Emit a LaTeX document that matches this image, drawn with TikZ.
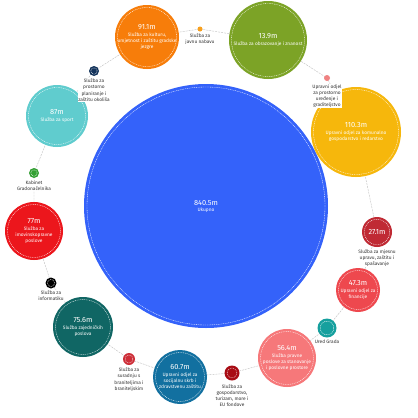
\documentclass[tikz,border=0pt]{standalone}
\usepackage{fontspec}
\setmainfont{Fira Sans}
\usetikzlibrary{positioning,backgrounds}

% colours of the departments
\definecolor{ukupnoBlue}{RGB}{52,98,250}
\definecolor{kulturaOrange}{RGB}{247,125,10}
\definecolor{nabavaOrange}{RGB}{248,160,30}
\definecolor{obrazovanjeGreen}{RGB}{124,163,38}
\definecolor{graditeljstvoPink}{RGB}{240,130,130}
\definecolor{komunalnoYellow}{RGB}{246,183,12}
\definecolor{upravaRed}{RGB}{192,42,52}
\definecolor{financijeRed}{RGB}{238,72,78}
\definecolor{uredTeal}{RGB}{22,160,158}
\definecolor{stanovanjeSalmon}{RGB}{246,120,122}
\definecolor{gospodarstvoRed}{RGB}{168,12,20}
\definecolor{socijalnoBlue}{RGB}{18,112,160}
\definecolor{braniteljiRed}{RGB}{205,45,55}
\definecolor{zajednickiTeal}{RGB}{16,102,100}
\definecolor{imovinaRed}{RGB}{236,22,28}
\definecolor{kabinetGreen}{RGB}{52,160,52}
\definecolor{sportCyan}{RGB}{96,204,206}
\definecolor{okolisNavy}{RGB}{20,52,92}

\newcommand{\iznos}[1]{{\fontsize{7.4}{8.4}\selectfont #1}}

\begin{document}
\begin{tikzpicture}[x=1pt,y=-1pt,
  bubble/.style={circle, fill=#1, inner sep=0pt, text=white, align=center,
    font=\fontsize{4.8}{6}\selectfont},
  ring/.style={white, line width=0.35pt, dash pattern=on 1pt off 0.8pt},
  link/.style={draw=black!25, line width=0.4pt, dash pattern=on 2pt off 1pt},
  tag/.style={fill=white, inner sep=0.6pt, align=center, text=black!80,
    font=\fontsize{4.8}{6.2}\selectfont}]
\useasboundingbox (0,0) rectangle (418,418);

% the total in the middle
\node[bubble=ukupnoBlue, minimum size=244pt] (ukupno) at (206,206) {\iznos{840.5m}\\Ukupno};

% departments round the ring
\node[bubble=kulturaOrange, minimum size=64pt] (kultura) at (147,37) {\iznos{91.1m}\\[1pt]Služba za kulturu,\\umjetnost i zaštitu gradske\\jezgre};
\node[bubble=nabavaOrange, minimum size=5pt] (nabava) at (200,29) {};
\node[bubble=obrazovanjeGreen, minimum size=78pt] (obrazovanje) at (268,40) {\iznos{13.9m}\\[1pt]Služba za obrazovanje i znanost};
\node[bubble=graditeljstvoPink, minimum size=6pt] (graditeljstvo) at (327,78) {};
\node[bubble=komunalnoYellow, minimum size=90pt] (komunalno) at (356,132) {\iznos{110.3m}\\[1pt]Upravni odjel za komunalno\\gospodarstvo i redarstvo};
\node[bubble=upravaRed, minimum size=30pt] (uprava) at (377,232) {\iznos{27.1m}};
\node[bubble=financijeRed, minimum size=44pt] (financije) at (358,290) {\iznos{47.3m}\\[1pt]Upravni odjel za\\financije};
\node[bubble=uredTeal, minimum size=19pt] (ured) at (327,328) {};
\node[bubble=stanovanjeSalmon, minimum size=58pt] (stanovanje) at (287,358) {\iznos{56.4m}\\[1pt]Služba pravne\\poslove za stanovanje\\i poslovne prostore};
\node[bubble=gospodarstvoRed, minimum size=15pt] (gospodarstvo) at (232,373) {};
\node[bubble=socijalnoBlue, minimum size=54pt] (socijalno) at (180,377) {\iznos{60.7m}\\[1pt]Upravni odjel za\\socijalnu skrb i\\zdravstvenu zaštitu};
\node[bubble=braniteljiRed, minimum size=12pt] (branitelji) at (129,359) {};
\node[bubble=zajednickiTeal, minimum size=60pt] (zajednicki) at (83,327) {\iznos{75.6m}\\[1pt]Služba zajedničkih\\poslova};
\node[bubble=black, minimum size=11pt] (informatika) at (51,283) {};
\node[bubble=imovinaRed, minimum size=58pt] (imovina) at (34,231) {\iznos{77m}\\[1pt]Služba za\\imovinskopravne\\poslove};
\node[bubble=kabinetGreen, minimum size=10pt] (kabinet) at (34,173) {};
\node[bubble=sportCyan, minimum size=62pt] (sport) at (57,116) {\iznos{87m}\\[1pt]Služba za sport};
\node[bubble=okolisNavy, minimum size=10pt] (okolis) at (94,71) {};

% white dashed rings inside the bubbles
\foreach \n/\r in {ukupno/119, kultura/29.5, obrazovanje/36.5, komunalno/42.5, uprava/12.8,
    financije/19.5, ured/6.8, stanovanje/26.5, gospodarstvo/5, socijalno/24.5, branitelji/4,
    zajednicki/27.5, informatika/3.6, imovina/26.5, kabinet/3.2, sport/28.5, okolis/3.2}
  \draw[ring] (\n.center) circle (\r pt);

% labels of the small ones
\node[tag, below=1.5pt of nabava] (nabavaTag) {Služba za\\javnu nabavu};
\node[tag, below=2.5pt of graditeljstvo] (graditeljstvoTag) {Upravni odjel\\za prostorno\\uređenje i\\graditeljstvo};
\node[tag, below=1.5pt of uprava] (upravaTag) {Služba za mjesnu\\upravu, zaštitu i\\spašavanje};
\node[tag, below=1.5pt of ured] (uredTag) {Ured Grada};
\node[tag, below=3pt of gospodarstvo] (gospodarstvoTag) {Služba za\\gospodarstvo,\\turizam, more i\\EU fondove};
\node[tag, below=2pt of branitelji] (braniteljiTag) {Služba za\\suradnju s\\braniteljima i\\braniteljskim};
\node[tag, below=1.5pt of informatika] (informatikaTag) {Služba za\\informatiku};
\node[tag, below=1.5pt of kabinet] (kabinetTag) {Kabinet\\Gradonačelnika};
\node[tag, below=2pt of okolis] (okolisTag) {Služba za\\prostorno\\planiranje i\\zaštitu okoliša};

% the ring of connectors behind everything
\begin{scope}[on background layer]
\fill[white] (0,0) rectangle (418,418);
\draw[link] (kultura.center) -- (nabava.center) -- (obrazovanje.center) -- (graditeljstvo.center)
  -- (komunalno.center) -- (uprava.center) -- (financije.center) -- (ured.center)
  -- (stanovanje.center) -- (gospodarstvo.center) -- (socijalno.center) -- (branitelji.center)
  -- (zajednicki.center) -- (informatika.center) -- (imovina.center) -- (kabinet.center)
  -- (sport.center) -- (okolis.center) -- cycle;
\end{scope}
\end{tikzpicture}
\end{document}
